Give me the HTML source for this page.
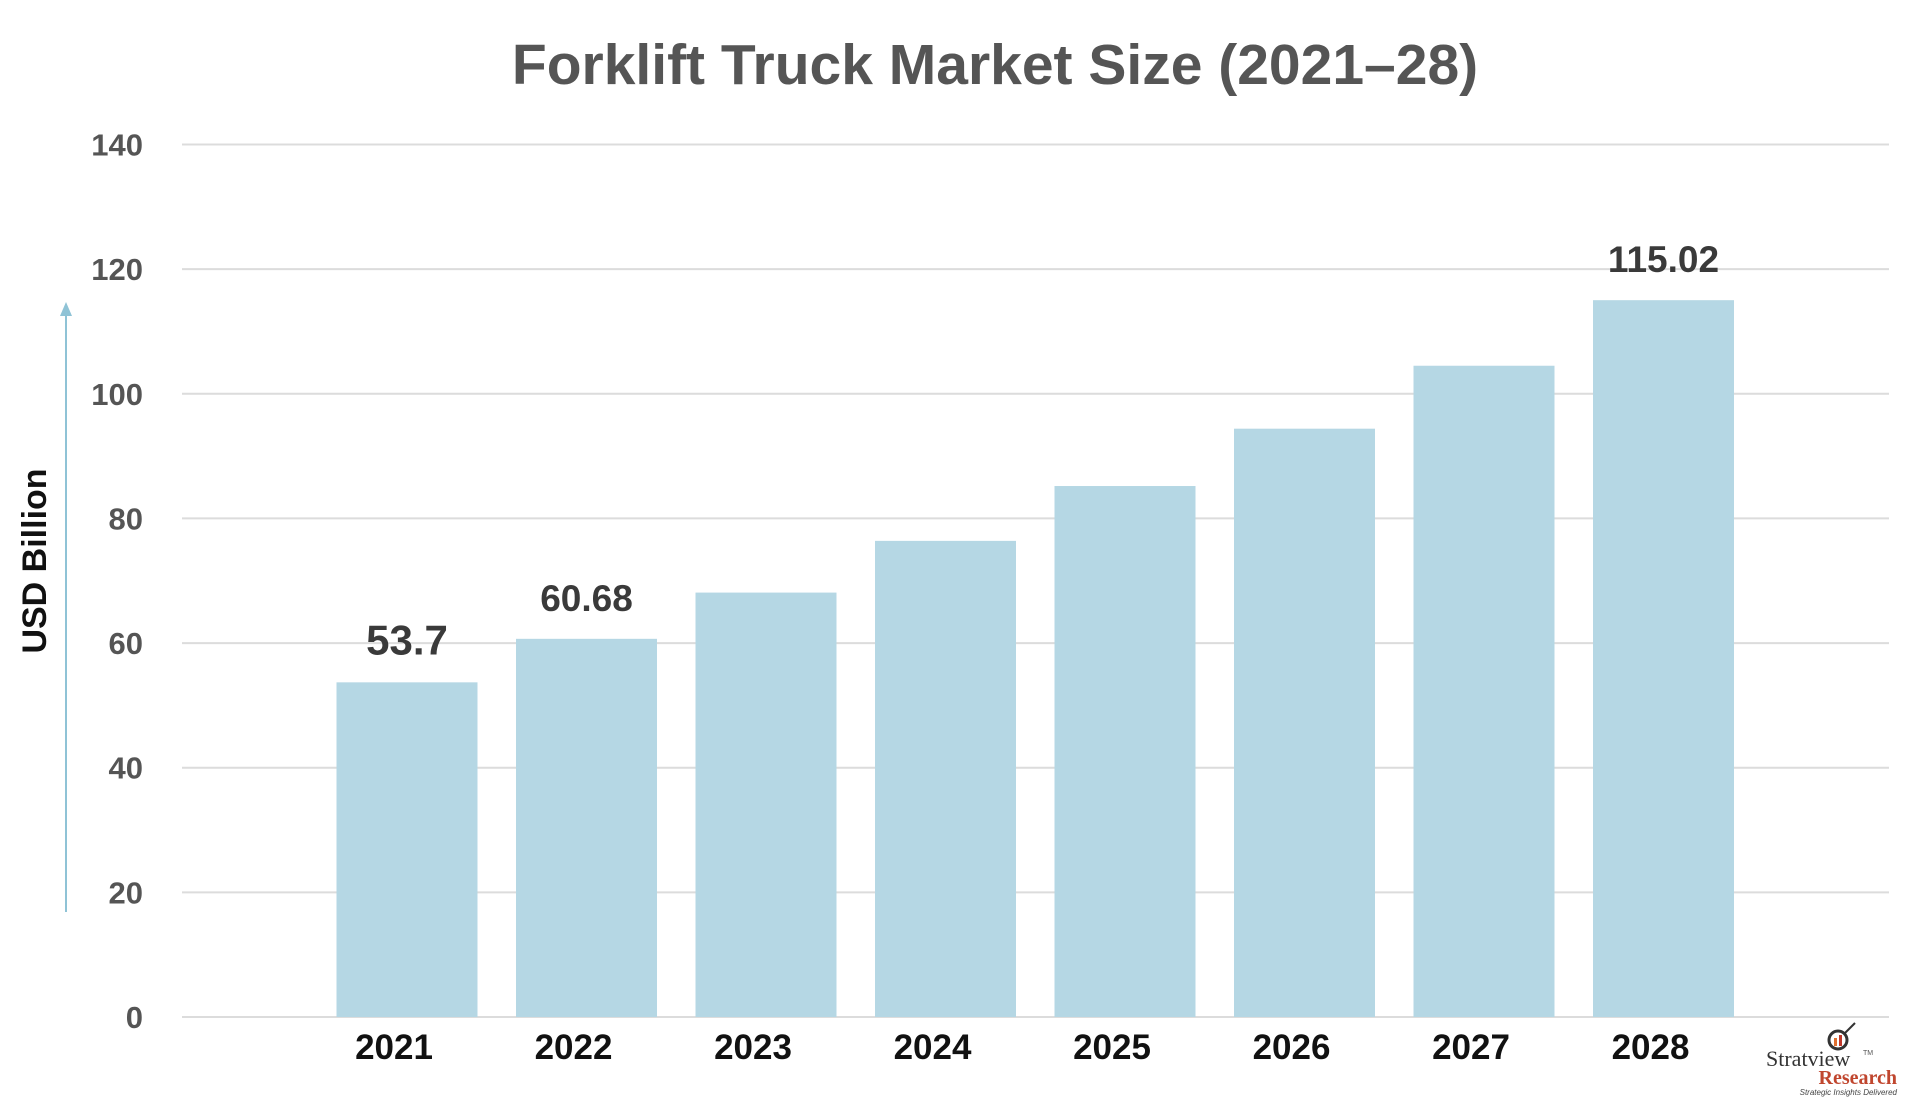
<!DOCTYPE html>
<html><head><meta charset="utf-8"><style>
body{margin:0;background:#fff;width:1920px;height:1097px;overflow:hidden;font-family:"Liberation Sans",sans-serif}
</style></head><body>
<svg width="1920" height="1097" id="c">
<text x="995" y="84" text-anchor="middle" font-size="57" font-weight="bold" fill="#555">Forklift Truck Market Size (2021–28)</text>
<text transform="translate(46,561) rotate(-90)" text-anchor="middle" font-size="34" font-weight="bold" fill="#111">USD Billion</text>
<line x1="66" y1="912" x2="66" y2="312" stroke="#8fc3d6" stroke-width="2"/>
<polygon points="66,302 60,316 72,316" fill="#8fc3d6"/>
<g id="grid"></g><g id="bars"></g>
<g>
<circle cx="1838" cy="1040" r="9" fill="none" stroke="#333" stroke-width="3"/>
<line x1="1845" y1="1033" x2="1855" y2="1023" stroke="#333" stroke-width="2"/>
<rect x="1834" y="1038" width="3" height="8" fill="#e07030"/><rect x="1839" y="1035" width="3" height="11" fill="#c0392b"/>
<text x="1766" y="1066" font-family="Liberation Serif,serif" font-size="22" fill="#333">Stratview</text>
<text x="1863" y="1055" font-size="7" fill="#555">TM</text>
<text x="1897" y="1084" text-anchor="end" font-family="Liberation Serif,serif" font-weight="bold" font-size="20" fill="#c0462e">Research</text>
<text x="1897" y="1095" text-anchor="end" font-style="italic" font-size="8" fill="#444">Strategic Insights Delivered</text>
</g>
</svg>
<script>
const categories=["2021","2022","2023","2024","2025","2026","2027","2028"];
const values=[53.7,60.68,68.1,76.4,85.2,94.4,104.5,115.02];
const valueLabels=["53.7","60.68","","","","","","115.02"];
const ticks=[0,20,40,60,80,100,120,140];
const ns="http://www.w3.org/2000/svg";
const y0=1017,pxPer=(1017-144.5)/140;
const yS=v=>y0-v*pxPer;
const xS=i=>407+i*179.5;
const bw=141;
const grid=document.getElementById('grid'),bars=document.getElementById('bars');
function mk(t,a,p){const e=document.createElementNS(ns,t);for(const k in a)e.setAttribute(k,a[k]);p.appendChild(e);return e;}
ticks.forEach(t=>{
 const l=mk('line',{x1:182,x2:1889,y1:yS(t),y2:yS(t),stroke:'#dcdcdc','stroke-width':2},grid);
 
 
 const tx=mk('text',{x:143,y:yS(t)+11,'text-anchor':'end','font-size':31,'font-weight':'bold',fill:'#555'},grid);
 tx.textContent=t;
 
 
});
values.forEach((v,i)=>{
 const r=mk('rect',{x:xS(i)-bw/2,y:yS(v),width:bw,height:y0-yS(v),fill:'#b5d7e4'},bars);
 
 
 const c=mk('text',{x:xS(i)-13,y:1059,'text-anchor':'middle','font-size':35,'font-weight':'bold',fill:'#111'},bars);
 c.textContent=categories[i];
 
 
 if(valueLabels[i]){
  const vl=mk('text',{x:xS(i),y:yS(v)-28,'text-anchor':'middle','font-size':i==0?42:37,'font-weight':'bold',fill:'#3a3a3a'},bars);
  vl.textContent=valueLabels[i];
  
  
 }
});
</script>
</body></html>
